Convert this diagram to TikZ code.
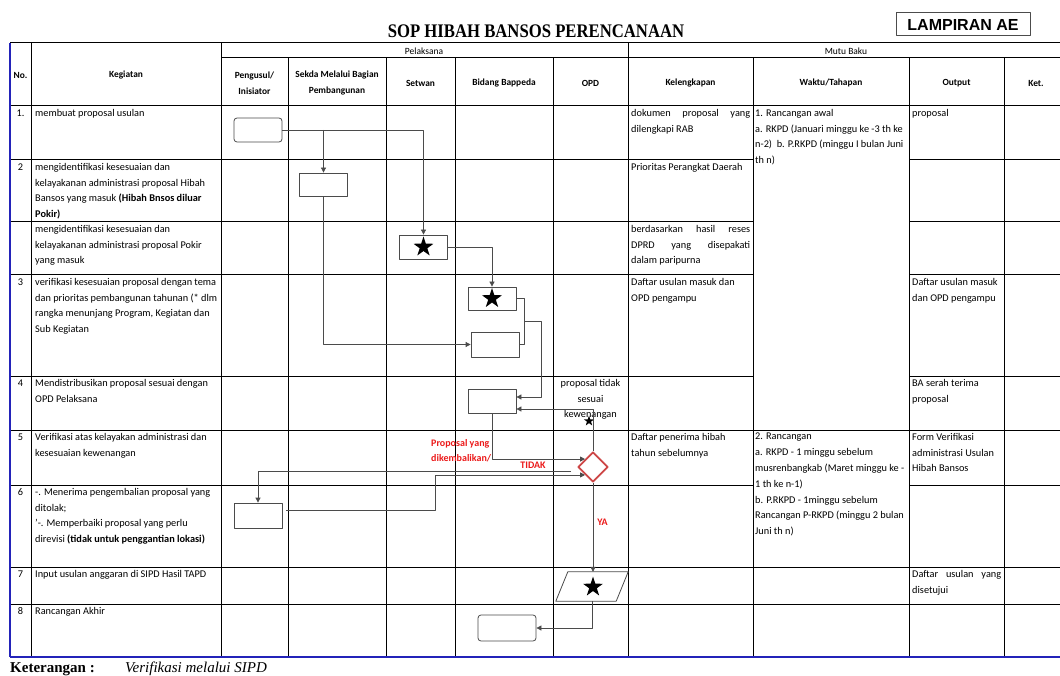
\documentclass[tikz,border=0pt]{standalone}
\usepackage{fontspec}
\setmainfont{Carlito}
\newfontfamily\serifjudul{Liberation Serif}
\newfontfamily\sanslampiran{Liberation Sans}
\usetikzlibrary{arrows.meta,shapes.geometric,calc}
\definecolor{biru}{RGB}{35,35,185}
\definecolor{merahbelah}{RGB}{205,70,70}
\definecolor{merahteks}{RGB}{235,25,25}
\definecolor{abualur}{RGB}{75,75,75}
\tikzset{
  sel/.style={anchor=north west,inner sep=0pt,align=left,font=\fontsize{10.3}{15.8}\selectfont},
  nomor/.style={anchor=north,inner sep=0pt,font=\fontsize{10.3}{15.8}\selectfont},
  kepala/.style={align=center,inner sep=0pt,font=\fontsize{9.4}{16}\selectfont\bfseries},
  kotak/.style={draw=abualur,line width=0.8pt,minimum width=48pt,minimum height=24pt,inner sep=0pt},
  bulat/.style={kotak,rounded corners=3pt},
  bintang/.style={star,star points=5,star point ratio=2.6,fill=black,inner sep=0pt,minimum size=21pt},
  alur/.style={draw=abualur,line width=0.8pt},
  merah/.style={text=merahteks,inner sep=0pt,align=left,font=\fontsize{10}{15}\selectfont\bfseries},
  garis/.style={line width=1pt}
}
\newcommand{\rata}[2]{\makebox[#1][s]{#2}}
\begin{document}
\begin{tikzpicture}[x=1pt,y=-1pt,>={Triangle[length=5pt,width=5pt]},line join=round]
  \useasboundingbox (0,0) rectangle (1060,676);
  % judul
  \node[inner sep=0pt,font=\serifjudul\bfseries\fontsize{16.7}{20}\selectfont] (judul) at (536,31) {\scalebox{1}[1.15]{SOP HIBAH BANSOS PERENCANAAN}};
  \node[draw=black!70,line width=1pt,minimum width=134pt,minimum height=23pt,inner sep=0pt,font=\sanslampiran\bfseries\fontsize{16}{18}\selectfont] (lamp) at (963,24.5) {LAMPIRAN AE};

  % garis tabel
  \foreach \y in {43,106,430,567,604} \draw[garis] (10,\y) -- (1060,\y);
  \foreach \y in {160,222,275,376,485} {
    \draw[garis] (10,\y) -- (753,\y);
    \draw[garis] (909,\y) -- (1060,\y);
  }
  \draw[garis] (221,58) -- (1060,58);
  \foreach \x in {31,221,628} \draw[garis] (\x,43) -- (\x,657);
  \foreach \x in {288,386,455,553,753,909,1004} \draw[garis] (\x,58) -- (\x,657);
  \draw[biru,line width=1.2pt] (10,43) -- (10,657);
  \draw[biru,line width=1.6pt] (10,657) -- (1060,657);

  % kepala tabel
  \node[inner sep=0pt,font=\fontsize{9.5}{10}\selectfont] (hpel) at (424,51) {Pelaksana};
  \node[inner sep=0pt,font=\fontsize{9.5}{10}\selectfont] (hmutu) at (846,51) {Mutu Baku};
  \node[kepala] (hno) at (20.5,75) {No.};
  \node[kepala] (hkeg) at (126,75) {Kegiatan};
  \node[kepala] (hpeng) at (254.5,83) {Pengusul/\\Inisiator};
  \node[kepala] (hsekda) at (337,83) {Sekda Melalui Bagian\\Pembangunan};
  \node[kepala] (hsetwan) at (420.5,83) {Setwan};
  \node[kepala] (hbid) at (504,83) {Bidang Bappeda};
  \node[kepala] (hopd) at (590.5,83) {OPD};
  \node[kepala] (hkel) at (690.5,83) {Kelengkapan};
  \node[kepala] (hwaktu) at (831,83) {Waktu/Tahapan};
  \node[kepala] (hout) at (956.5,83) {Output};
  \node[kepala] (hket) at (1036,83) {Ket.};

  % nomor
  \node[nomor] (no1) at (20.5,109.5) {1.};
  \node[nomor] (no2) at (20.5,163.5) {2};
  \node[nomor] (no3) at (20.5,278.5) {3};
  \node[nomor] (no4) at (20.5,379.5) {4};
  \node[nomor] (no5) at (20.5,433.5) {5};
  \node[nomor] (no6) at (20.5,488.5) {6};
  \node[nomor] (no7) at (20.5,570.5) {7};
  \node[nomor] (no8) at (20.5,607.5) {8};

  % kegiatan
  \node[sel] (k1) at (35,109) {membuat proposal usulan};
  \node[sel] (k2) at (35,163) {mengidentifikasi kesesuaian dan\\kelayakanan administrasi proposal Hibah\\Bansos yang masuk \textbf{(Hibah Bnsos diluar}\\\textbf{Pokir)}};
  \node[sel] (k2b) at (35,225) {mengidentifikasi kesesuaian dan\\kelayakanan administrasi proposal Pokir\\yang masuk};
  \node[sel] (k3) at (35,278) {verifikasi kesesuaian proposal dengan tema\\dan prioritas pembangunan tahunan (* dlm\\rangka menunjang Program, Kegiatan dan\\Sub Kegiatan};
  \node[sel] (k4) at (35,379) {Mendistribusikan proposal sesuai dengan\\OPD Pelaksana};
  \node[sel] (k5) at (35,433) {Verifikasi atas kelayakan administrasi dan\\kesesuaian kewenangan};
  \node[sel] (k6) at (35,488) {-. Menerima pengembalian proposal yang\\ditolak;\\'-. Memperbaiki proposal yang perlu\\direvisi \textbf{(tidak untuk penggantian lokasi)}};
  \node[sel] (k7) at (35,570) {Input usulan anggaran di SIPD Hasil TAPD};
  \node[sel] (k8) at (35,607) {Rancangan Akhir};

  % kelengkapan
  \node[sel] (l1) at (631,109) {\rata{119pt}{dokumen proposal yang}\\dilengkapi RAB};
  \node[sel] (l2) at (631,163) {Prioritas Perangkat Daerah};
  \node[sel] (l2b) at (631,225) {\rata{119pt}{berdasarkan hasil reses}\\\rata{119pt}{DPRD yang disepakati}\\dalam paripurna};
  \node[sel] (l3) at (631,278) {Daftar usulan masuk dan\\OPD pengampu};
  \node[sel] (l5) at (631,433) {Daftar penerima hibah\\tahun sebelumnya};

  % waktu
  \node[sel] (w1) at (755,109) {1. Rancangan awal\\a. RKPD (Januari minggu ke -3 th ke\\n-2)\ \ b. P.RKPD (minggu I bulan Juni\\th n)};
  \node[sel] (w5) at (755,433) {2. Rancangan\\a. RKPD - 1 minggu sebelum\\musrenbangkab (Maret minggu ke -\\1 th ke n-1)\\b. P.RKPD - 1minggu sebelum\\Rancangan P-RKPD (minggu 2 bulan\\Juni th n)};

  % output
  \node[sel] (o1) at (912,109) {proposal};
  \node[sel] (o3) at (912,278) {Daftar usulan masuk\\dan OPD pengampu};
  \node[sel] (o4) at (912,379) {BA serah terima\\proposal};
  \node[sel] (o5) at (912,433) {Form Verifikasi\\administrasi Usulan\\Hibah Bansos};
  \node[sel] (o7) at (912,570) {\rata{89pt}{Daftar usulan yang}\\disetujui};

  % OPD
  \node[sel,anchor=north,align=center] (t4) at (590.5,379) {proposal tidak\\sesuai\\kewenangan};

  % bagan alir
  \node[bulat] (n1) at (258,130) {};
  \node[kotak,minimum height=23pt] (n2) at (323.5,184.5) {};
  \node[kotak] (n2b) at (423.5,247) {};
  \node[bintang] (b2b) at (n2b) {};
  \node[kotak,minimum height=23pt] (n3a) at (492,298.5) {};
  \node[bintang] (b3a) at (n3a) {};
  \node[kotak,minimum height=25pt] (n3b) at (495,344.5) {};
  \node[kotak] (n4) at (492,401) {};
  \node[diamond,draw=merahbelah,line width=1.8pt,minimum size=30pt,inner sep=0pt] (dia) at (593,467) {};
  \node[kotak,minimum height=25pt] (n6) at (258,515.5) {};
  \node[minimum width=60pt,minimum height=29pt,inner sep=0pt] (n7) at (592,586.5) {};
  \draw[alur] ($(n7.north west)+(6,0)$) -- ($(n7.north east)+(6,0)$) -- ($(n7.south east)+(-6,0)$) -- ($(n7.south west)+(-6,0)$) -- cycle;
  \node[bintang] (b7) at (593,587) {};
  \node[bulat,minimum width=58pt,minimum height=26pt] (n8) at (507,628) {};
  \node[bintang,minimum size=11pt] (bk) at (589,421) {};

  \draw[alur,->] (n1.east) -| (n2b.north);
  \draw[alur,->] (n2.north |- n1.east) -- (n2.north);
  \draw[alur,->] (n2.south) |- (n3b.west);
  \draw[alur,->] (n2b.east) -| (n3a.north);
  \draw[alur] (n3a.east) -- ++(8,0) coordinate (kk) |- (n3b.east);
  \draw[alur,->] ($(kk)!0.5!(kk |- n3b.east)$) -- ++(17,0) |- ($(n4.east)+(0,-4)$);
  \draw[alur,->] (dia.north) |- ($(n4.east)+(0,8)$);
  \draw[alur,->] (n4.south) |- (dia.north west);
  \draw[alur,->] ($(dia.west)+(-6,4)$) -| (n6.north);
  \draw[alur,->] ($(n6.east)+(4,-5)$) -- ++(149,0) |- (dia.south west);
  \draw[alur,->] (dia.south) -- (dia.south |- n7.north);
  \draw[alur,->] (n7.south) |- (n8.east);

  \node[merah,anchor=north west] (lkembali) at (431,439) {Proposal yang\\dikembalikan/};
  \node[merah] (ltidak) at (533,465) {TIDAK};
  \node[merah] (lya) at (602.5,522) {YA};

  % keterangan
  \node[anchor=base west,inner sep=0pt,font=\serifjudul\bfseries\fontsize{15}{18}\selectfont] (ket) at (10,672) {Keterangan :};
  \node[anchor=base west,inner sep=0pt,font=\serifjudul\itshape\fontsize{15}{18}\selectfont] (ketsipd) at (125,672) {Verifikasi melalui SIPD};
\end{tikzpicture}
\end{document}
